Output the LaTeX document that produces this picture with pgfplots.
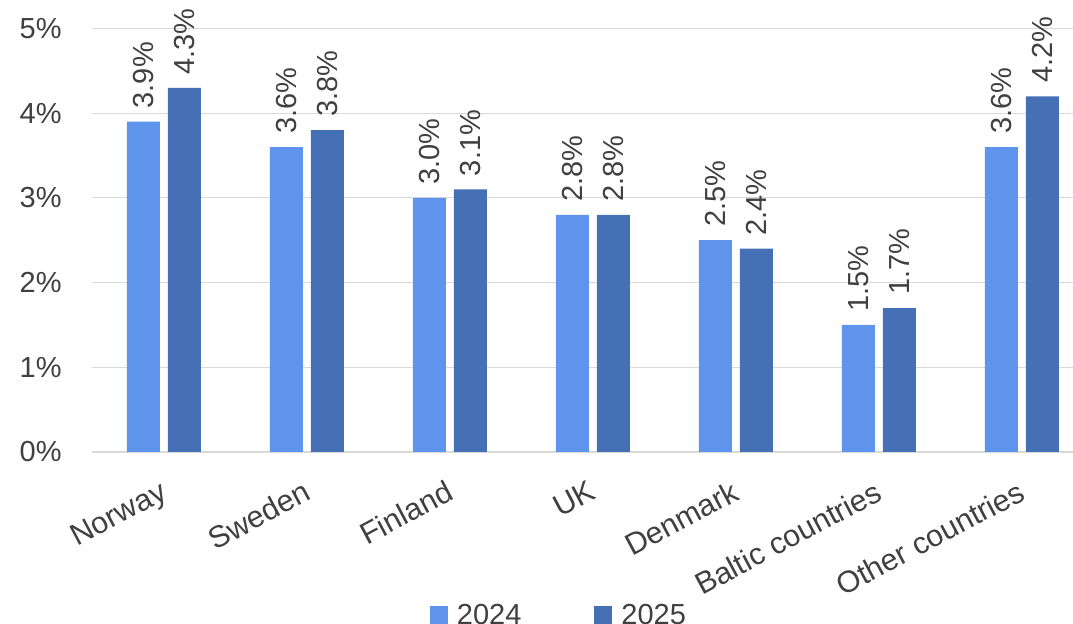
\documentclass[border=0pt]{standalone}
\usepackage{fontspec}
\setmainfont{Liberation Sans}
\usepackage{pgfplots}
\pgfplotsset{compat=1.18}

\definecolor{bar24}{RGB}{95,148,236}
\definecolor{bar25}{RGB}{70,112,181}
\definecolor{txt}{RGB}{64,64,64}
\definecolor{gridc}{RGB}{217,217,217}
\newcommand\lblfont{\fontsize{14.5}{17}\selectfont}
\newcommand\catfont{\fontsize{15.2}{18}\selectfont}

\begin{document}
\begin{tikzpicture}
\begin{axis}[
  scale only axis, width=490.5pt, height=211.75pt,
  xmin=-0.503, xmax=6.357, ymin=0, ymax=5,
  ybar=4pt, bar width=16.5pt,
  axis line style={draw=none},
  major tick length=0pt,
  ytick={0,...,5},
  yticklabel={\pgfmathprintnumber{\tick}\%},
  ymajorgrids, grid style={gridc, line width=0.6pt},
  xtick={0,...,6},
  xticklabels={Norway,Sweden,Finland,UK,Denmark,Baltic countries,Other countries},
  xticklabel style={xshift=-2.5pt, yshift=-13.5pt, rotate=28, anchor=north east, inner sep=0pt, font=\catfont},
  yticklabel style={anchor=east, inner sep=0pt, xshift=-15pt, font=\lblfont},
  tick label style={text=txt},
  /pgf/number format/assume math mode=true,
  nodes near coords={\pgfmathprintnumber[fixed,fixed zerofill,precision=1]{\pgfplotspointmeta}\%},
  every node near coord/.append style={rotate=90, anchor=west, inner xsep=6.5pt, inner ysep=0pt, font=\lblfont, text=txt},
  clip=false,
  every axis plot post/.append style={
    legend image code/.code={\fill[##1] (0pt,-4pt) rectangle (9pt,5pt);}},
  legend columns=2,
  legend style={draw=none, fill=none, at={(0.3445,-0.3594)}, anchor=north west,
    inner sep=0pt, outer sep=0pt, nodes={inner sep=0pt, text=txt, font=\lblfont},
    column sep=4.5pt, /tikz/every even column/.append style={column sep=36.5pt}},
]
% share of each market, 2024 and 2025
\addplot[fill=bar24, draw=none] coordinates {
  (0,3.9) (1,3.6) (2,3.0) (3,2.8) (4,2.5) (5,1.5) (6,3.6)};
\addlegendentry{2024}
\addplot[fill=bar25, draw=none] coordinates {
  (0,4.3) (1,3.8) (2,3.1) (3,2.8) (4,2.4) (5,1.7) (6,4.2)};
\addlegendentry{2025}
\end{axis}
\pgfresetboundingbox
\path[use as bounding box] (-46pt,-86pt) rectangle (490.5pt,226pt);
\end{tikzpicture}
\end{document}
